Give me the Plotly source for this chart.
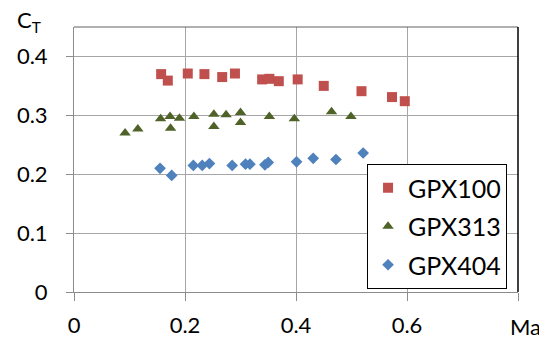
import plotly.graph_objects as go

# GPX100
gpx100_x = [0.157, 0.169, 0.205, 0.235, 0.267, 0.290, 0.339, 0.352, 0.369, 0.403, 0.450, 0.518, 0.573, 0.596]
gpx100_y = [0.370, 0.359, 0.371, 0.370, 0.365, 0.371, 0.361, 0.362, 0.358, 0.361, 0.350, 0.341, 0.331, 0.324]
# GPX313
gpx313_x = [0.092, 0.115, 0.156, 0.173, 0.174, 0.190, 0.216, 0.252, 0.252, 0.274, 0.300, 0.300, 0.352, 0.397, 0.464, 0.499]
gpx313_y = [0.270, 0.277, 0.294, 0.298, 0.278, 0.295, 0.298, 0.302, 0.281, 0.301, 0.305, 0.288, 0.298, 0.294, 0.306, 0.298]
# GPX404
gpx404_x = [0.155, 0.176, 0.215, 0.231, 0.244, 0.285, 0.309, 0.317, 0.344, 0.350, 0.401, 0.431, 0.472, 0.521]
gpx404_y = [0.210, 0.198, 0.215, 0.215, 0.218, 0.215, 0.217, 0.217, 0.216, 0.220, 0.221, 0.227, 0.225, 0.236]

x_ticks = [0, 0.2, 0.4, 0.6, 0.8]
x_ticktext = ["0", "0.2", "0.4", "0.6", ""]
y_ticks = [0, 0.1, 0.2, 0.3, 0.4]
y_ticktext = ["0", "0.1", "0.2", "0.3", "0.4"]

FONT = "Lato"
fig = go.Figure()
fig.add_trace(go.Scatter(x=gpx100_x, y=gpx100_y, mode="markers", name="GPX100", legendgroup="a",
                         marker=dict(symbol="square", size=10, color="#C0504D")))
fig.add_trace(go.Scatter(x=gpx313_x, y=gpx313_y, mode="markers", name="GPX313", legendgroup="b",
                         marker=dict(symbol="triangle-up", size=10, color="#4F6228")))
fig.add_trace(go.Scatter(x=gpx404_x, y=gpx404_y, mode="markers", name="GPX404", legendgroup="c",
                         marker=dict(symbol="diamond", size=9, color="#4F81BD")))

fig.update_layout(
    width=539, height=338,
    margin=dict(l=74, r=21, t=27, b=46, autoexpand=False),
    paper_bgcolor="white", plot_bgcolor="white",
    font=dict(family=FONT, size=22, color="black"),
    showlegend=True,
    legend=dict(x=0.66, y=0.483, xanchor="left", yanchor="top",
                bgcolor="white", bordercolor="black", borderwidth=1,
                font=dict(family=FONT, size=25, color="black"),
                traceorder="grouped", tracegroupgap=3),
    xaxis=dict(range=[0, 0.8], tickvals=x_ticks, ticktext=x_ticktext,
               showgrid=True, gridcolor="#A6A6A6", gridwidth=1,
               showline=True, linecolor="#8C8C8C", linewidth=1,
               ticks="outside", ticklen=8, tickcolor="#8C8C8C",
               zeroline=False, ticklabelstandoff=6, automargin=False),
    yaxis=dict(range=[0, 0.45], tickvals=y_ticks, ticktext=y_ticktext,
               showgrid=True, gridcolor="#A6A6A6", gridwidth=1,
               showline=True, linecolor="#8C8C8C", linewidth=1,
               ticks="outside", ticklen=7, tickcolor="#8C8C8C",
               zeroline=False, ticklabelstandoff=14, automargin=False),
    shapes=[
        dict(type="line", xref="paper", yref="paper", x0=0, x1=1, y0=1, y1=1,
             line=dict(color="#606060", width=1)),
        dict(type="line", xref="paper", yref="paper", x0=1, x1=1, y0=0, y1=1,
             line=dict(color="black", width=1.5)),
    ],
    annotations=[
        dict(text="C<sub>T</sub>", xref="paper", yref="paper", x=-0.133, y=1.023,
             xanchor="left", yanchor="middle", showarrow=False,
             font=dict(family=FONT, size=22, color="black")),
        dict(text="Ma", xref="paper", yref="paper", x=0.977, y=-0.132,
             xanchor="left", yanchor="middle", showarrow=False,
             font=dict(family=FONT, size=22, color="black")),
    ],
)

fig.write_html("out.html")
